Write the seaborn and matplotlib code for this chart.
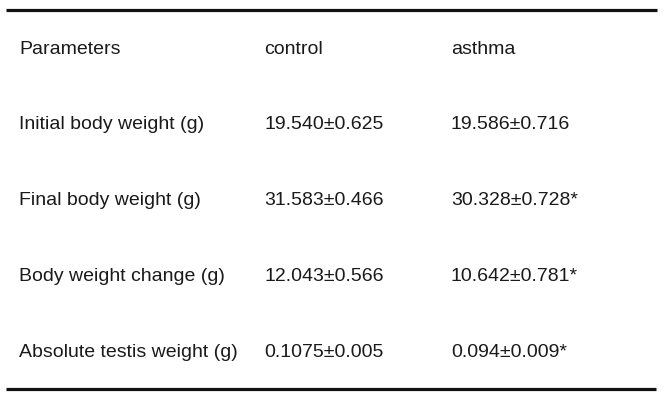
#Visualizaciones
import matplotlib
matplotlib.use('Agg')
import matplotlib.pyplot as plt
import seaborn as sns

#Datos de la tabla
columnas = ['Parameters', 'control', 'asthma']
parametros = [
    'Initial body weight (g)',
    'Final body weight (g)',
    'Body weight change (g)',
    'Absolute testis weight (g)',
]
control = ['19.540±0.625', '31.583±0.466', '12.043±0.566', '0.1075±0.005']
asthma = ['19.586±0.716', '30.328±0.728*', '10.642±0.781*', '0.094±0.009*']

sns.set_theme(style='white')
plt.rcParams['font.family'] = ['Liberation Sans', 'DejaVu Sans']

fig = plt.figure(figsize=(6.66, 4.02), dpi=100)
ax = fig.add_axes([0, 0, 1, 1])
ax.set_xlim(0, 666)
ax.set_ylim(4.66, -0.647)
ax.axis('off')

# posicion x de cada columna (en pixeles)
col_x = [19, 264, 451]

filas = [columnas] + [list(f) for f in zip(parametros, control, asthma)]

for i, fila in enumerate(filas):
    for j, texto in enumerate(fila):
        ax.text(col_x[j], i, texto, fontsize=14, color='#1a1a1a',
                ha='left', va='center')

# lineas superior e inferior
ax.plot([6, 657], [-0.5, -0.5], color='#111111', linewidth=2.3,
        solid_capstyle='butt')
ax.plot([6, 656], [len(filas) - 0.5, len(filas) - 0.5], color='#111111',
        linewidth=2.3, solid_capstyle='butt')

fig.savefig('out.png', dpi=100, facecolor='white')
